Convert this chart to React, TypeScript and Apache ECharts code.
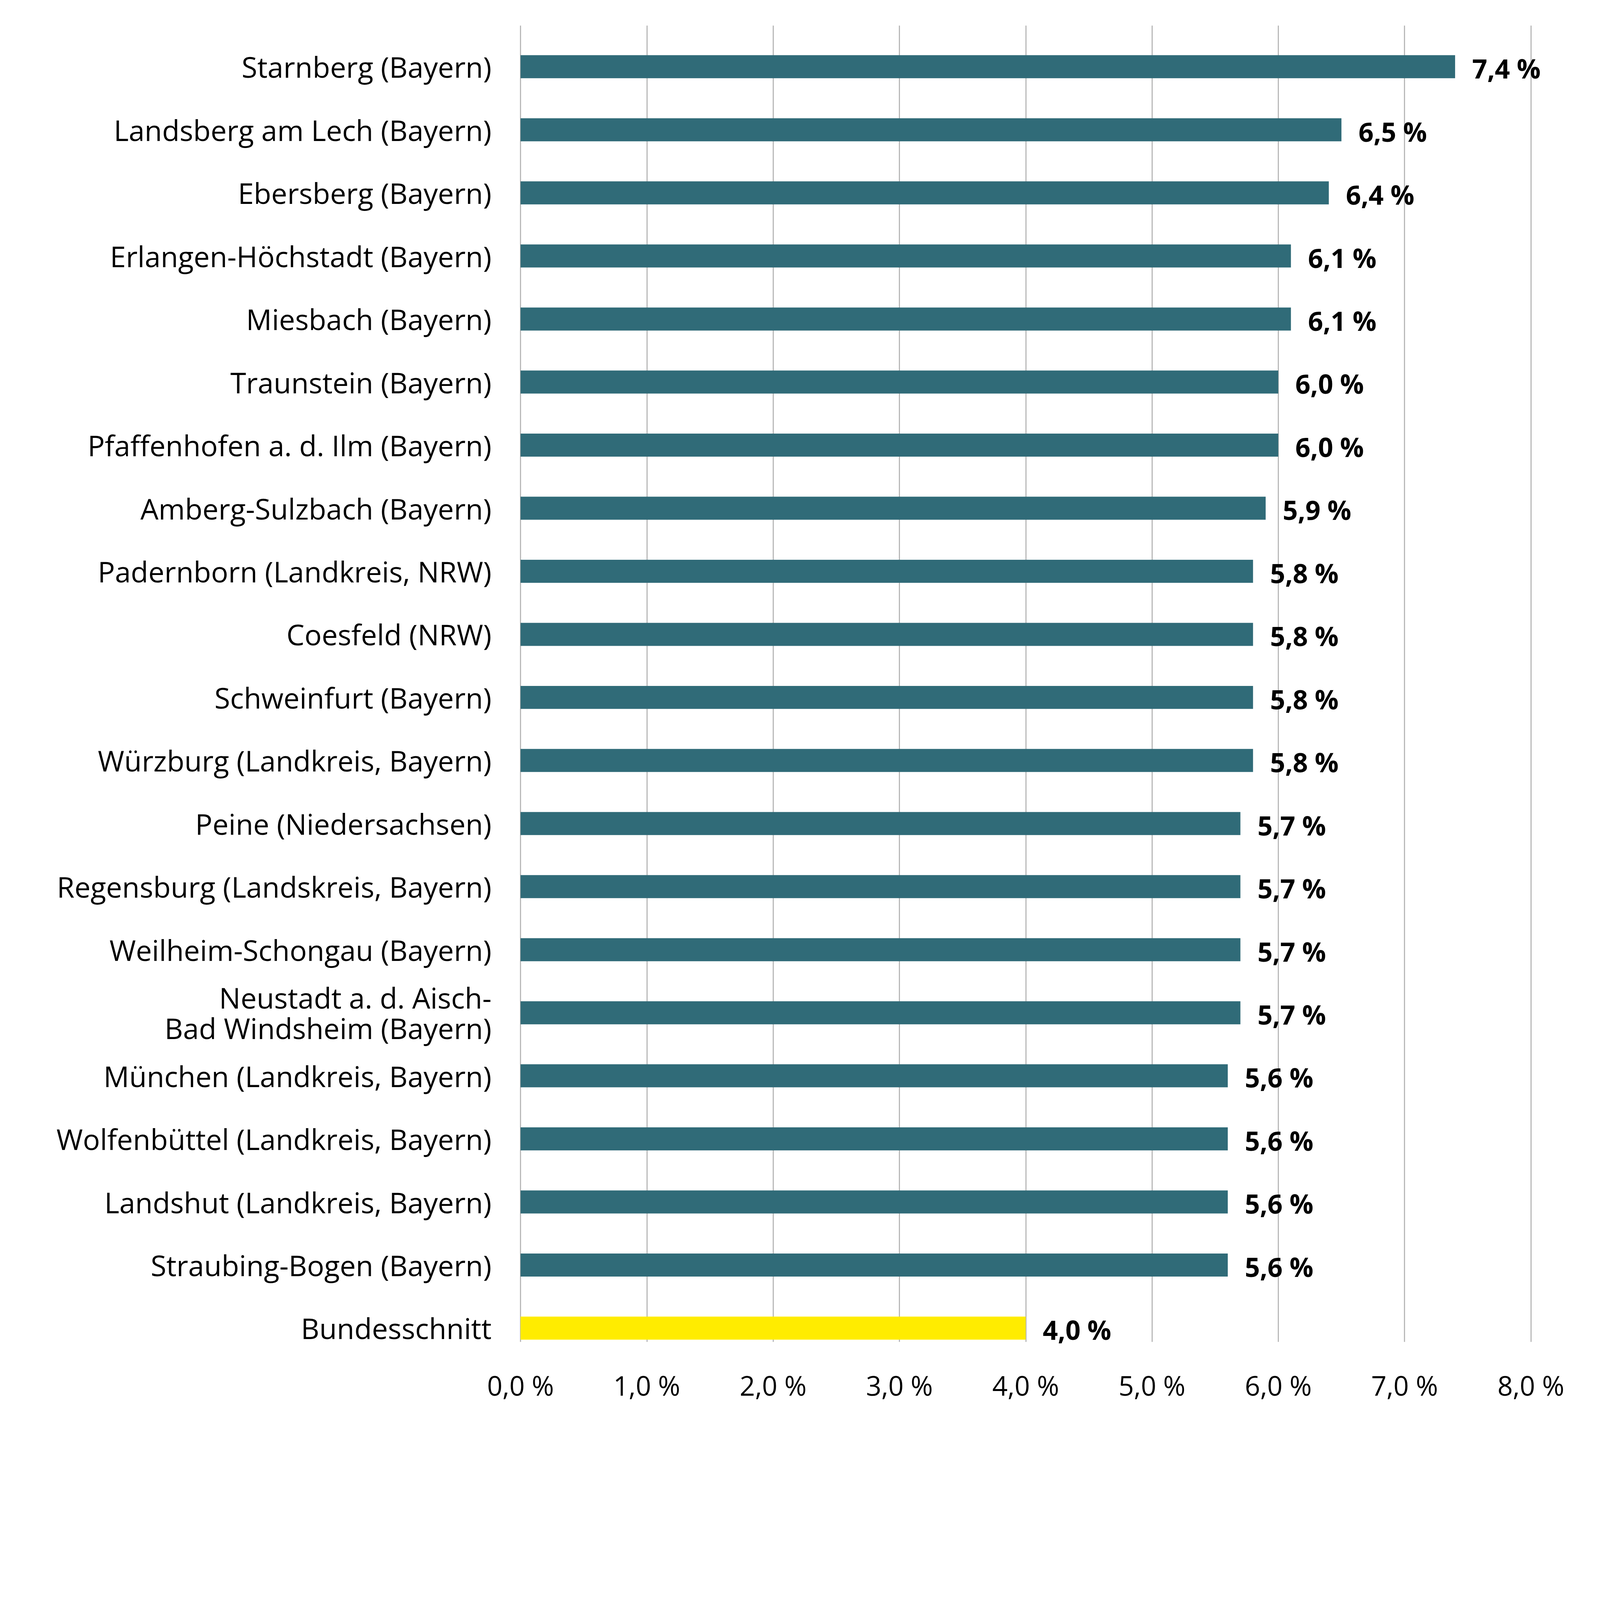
import * as echarts from 'echarts';
import React, { useEffect, useRef } from 'react';

const regions = [
  'Starnberg (Bayern)',
  'Landsberg am Lech (Bayern)',
  'Ebersberg (Bayern)',
  'Erlangen-Höchstadt (Bayern)',
  'Miesbach (Bayern)',
  'Traunstein (Bayern)',
  'Pfaffenhofen a. d. Ilm (Bayern)',
  'Amberg-Sulzbach (Bayern)',
  'Padernborn (Landkreis, NRW)',
  'Coesfeld (NRW)',
  'Schweinfurt (Bayern)',
  'Würzburg (Landkreis, Bayern)',
  'Peine (Niedersachsen)',
  'Regensburg (Landskreis, Bayern)',
  'Weilheim-Schongau (Bayern)',
  'Neustadt a. d. Aisch-\nBad Windsheim (Bayern)',
  'München (Landkreis, Bayern)',
  'Wolfenbüttel (Landkreis, Bayern)',
  'Landshut (Landkreis, Bayern)',
  'Straubing-Bogen (Bayern)',
  'Bundesschnitt',
];

const shares = [
  7.4, 6.5, 6.4, 6.1, 6.1, 6.0, 6.0, 5.9, 5.8, 5.8, 5.8, 5.8, 5.7, 5.7, 5.7, 5.7, 5.6, 5.6, 5.6, 5.6, 4.0,
];

const axisTicks = [0, 1, 2, 3, 4, 5, 6, 7, 8];

const TEAL = '#306b78';
const YELLOW = '#ffec00';
const FONT = '"Open Sans", sans-serif';

// reference is laid out on a 7500 x 6771 canvas, scaled to the window width
const BASE_W = 7500;
const BASE_H = 6771;

const fmt = (v: number) => v.toFixed(1).replace('.', ',') + ' %';

const App: React.FC = () => {
  const ref = useRef<HTMLDivElement>(null);
  const s = window.innerWidth / BASE_W;
  const w = BASE_W * s;
  const h = BASE_H * s;

  useEffect(() => {
    document.body.style.margin = '0';
    const chart = echarts.init(ref.current, null, { renderer: 'svg' });
    chart.setOption({
      animation: false,
      backgroundColor: '#ffffff',
      textStyle: { fontFamily: FONT },
      grid: [
        // bar bands
        { left: 2440 * s, right: 324 * s, top: 165 * s, bottom: (BASE_H - 6373) * s },
        // gridlines + tick labels
        { left: 2440 * s, right: 324 * s, top: 120 * s, bottom: (BASE_H - 6290) * s },
      ],
      xAxis: [
        { type: 'value', gridIndex: 0, min: 0, max: 8, interval: 1, show: false },
        {
          type: 'value',
          gridIndex: 1,
          min: axisTicks[0],
          max: axisTicks[axisTicks.length - 1],
          interval: 1,
          axisLine: { show: false },
          axisTick: { show: false },
          splitLine: { show: true, lineStyle: { color: '#b3b3b3', width: 5 * s } },
          axisLabel: {
            margin: 140 * s,
            fontSize: 126 * s,
            color: '#000',
            fontFamily: FONT,
            formatter: (v: number) => fmt(v),
          },
        },
      ],
      yAxis: [
        {
          type: 'category',
          gridIndex: 0,
          inverse: true,
          data: regions,
          axisLine: { show: false },
          axisTick: { show: false },
          splitLine: { show: false },
          axisLabel: {
            margin: 136 * s,
            fontSize: 134 * s,
            lineHeight: 144 * s,
            color: '#000',
            fontFamily: FONT,
          },
        },
        { type: 'value', gridIndex: 1, show: false },
      ],
      series: [
        {
          type: 'bar',
          xAxisIndex: 0,
          yAxisIndex: 0,
          barWidth: 108 * s,
          data: shares.map((v, i) => ({
            value: v,
            itemStyle: { color: i === shares.length - 1 ? YELLOW : TEAL },
          })),
          label: {
            show: true,
            position: 'right',
            distance: 80 * s,
            offset: [0, 8 * s],
            fontSize: 124 * s,
            fontWeight: 'bold',
            color: '#000',
            fontFamily: FONT,
            formatter: (p: any) => fmt(p.value),
          },
        },
      ],
    });
    return () => {
      chart.dispose();
    };
  }, []);

  return (
    <div
      ref={ref}
      style={{ position: 'absolute', left: 0, top: 0, width: w, height: h }}
    ></div>
  );
};

export default App;
